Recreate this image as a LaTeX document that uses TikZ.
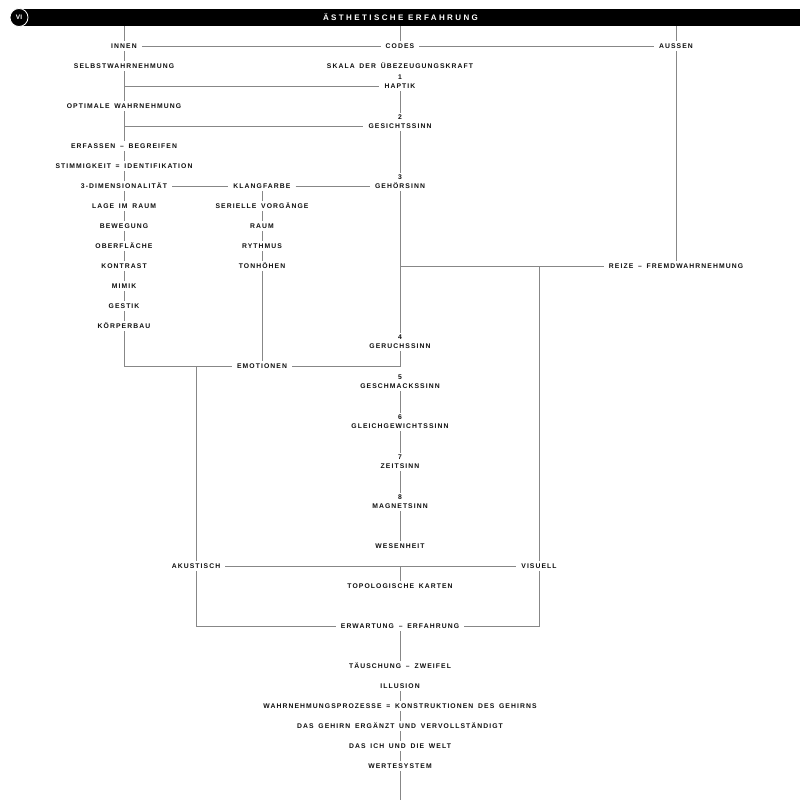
\documentclass[tikz,border=0pt]{standalone}
\usepackage{fontspec}
\setmainfont{Liberation Sans}
\newfontfamily\trackfont{Liberation Sans}[LetterSpace=16,WordSpace=1.6]
\newfontfamily\titletrack{Liberation Sans}[LetterSpace=30]
\newcommand\lblf{\trackfont\bfseries\fontsize{6.8}{8}\selectfont}
\newcommand\ttlf{\titletrack\bfseries\fontsize{8}{9}\selectfont}
\definecolor{linegray}{RGB}{135,135,135}
\definecolor{txt}{RGB}{15,15,15}
\begin{document}
\begin{tikzpicture}[x=1pt,y=-1pt,
  ln/.style={draw=linegray,line width=0.75pt},
  lbl/.style={font=\lblf,text=txt,inner xsep=5pt,inner ysep=2.5pt,text height=4.9pt,text depth=0pt},
  num/.style={lbl,inner ysep=1.5pt}]
\useasboundingbox (0,0) rectangle (800,800);
\fill[white] (0,0) rectangle (800,800);
% header
\node[fill=black,minimum width=778pt,minimum height=17.5pt,inner sep=0pt,anchor=north west] (bar) at (22,8.5) {};
\node[circle,fill=black,draw=white,line width=0.8pt,minimum size=18pt,inner sep=0pt,text=white,font=\bfseries\fontsize{6.5}{7}\selectfont] (vi) at (19,17.5) {VI};
\node[font=\ttlf,text=white,inner sep=0pt] (title) at (400.5,17.5) {ÄSTHETISCHE ERFAHRUNG};
% left column
\node[lbl] (innen) at (124,46) {INNEN};
\node[lbl] (selbst) at (124,66) {SELBSTWAHRNEHMUNG};
\node[lbl] (optimal) at (124,106) {OPTIMALE WAHRNEHMUNG};
\node[lbl] (erfassen) at (124,146) {ERFASSEN – BEGREIFEN};
\node[lbl] (stimmig) at (124,166) {STIMMIGKEIT = IDENTIFIKATION};
\node[lbl] (dreid) at (124,186) {3-DIMENSIONALITÄT};
\node[lbl] (lage) at (124,206) {LAGE IM RAUM};
\node[lbl] (beweg) at (124,226) {BEWEGUNG};
\node[lbl] (ober) at (124,246) {OBERFLÄCHE};
\node[lbl] (kontrast) at (124,266) {KONTRAST};
\node[lbl] (mimik) at (124,286) {MIMIK};
\node[lbl] (gestik) at (124,306) {GESTIK};
\node[lbl] (koerper) at (124,326) {KÖRPERBAU};
% middle column
\node[lbl] (klang) at (262,186) {KLANGFARBE};
\node[lbl] (seriell) at (262,206) {SERIELLE VORGÄNGE};
\node[lbl] (raum) at (262,226) {RAUM};
\node[lbl] (rythmus) at (262,246) {RYTHMUS};
\node[lbl] (tonh) at (262,266) {TONHÖHEN};
\node[lbl] (emo) at (262,366) {EMOTIONEN};
% center column
\node[lbl] (codes) at (400,46) {CODES};
\node[lbl] (skala) at (400,66) {SKALA DER ÜBEZEUGUNGSKRAFT};
\node[num] (n1) at (400,77.5) {1};
\node[lbl] (haptik) at (400,86) {HAPTIK};
\node[num] (n2) at (400,117.5) {2};
\node[lbl] (gesicht) at (400,126) {GESICHTSSINN};
\node[num] (n3) at (400,177.5) {3};
\node[lbl] (gehoer) at (400,186) {GEHÖRSINN};
\node[num] (n4) at (400,337.5) {4};
\node[lbl] (geruch) at (400,346) {GERUCHSSINN};
\node[num] (n5) at (400,377.5) {5};
\node[lbl] (geschmack) at (400,386) {GESCHMACKSSINN};
\node[num] (n6) at (400,417.5) {6};
\node[lbl] (gleich) at (400,426) {GLEICHGEWICHTSSINN};
\node[num] (n7) at (400,457.5) {7};
\node[lbl] (zeit) at (400,466) {ZEITSINN};
\node[num] (n8) at (400,497.5) {8};
\node[lbl] (magnet) at (400,506) {MAGNETSINN};
\node[lbl] (wesen) at (400,546) {WESENHEIT};
\node[lbl] (topo) at (400,586) {TOPOLOGISCHE KARTEN};
\node[lbl] (erwart) at (400,626) {ERWARTUNG – ERFAHRUNG};
\node[lbl] (taeusch) at (400,666) {TÄUSCHUNG – ZWEIFEL};
\node[lbl] (illusion) at (400,686) {ILLUSION};
\node[lbl] (prozesse) at (400,706) {WAHRNEHMUNGSPROZESSE = KONSTRUKTIONEN DES GEHIRNS};
\node[lbl] (ergaenzt) at (400,726) {DAS GEHIRN ERGÄNZT UND VERVOLLSTÄNDIGT};
\node[lbl] (ich) at (400,746) {DAS ICH UND DIE WELT};
\node[lbl] (werte) at (400,766) {WERTESYSTEM};
\coordinate (bottom) at (400,800);
% right
\node[lbl] (aussen) at (676,46) {AUSSEN};
\node[lbl] (reize) at (676,266) {REIZE – FREMDWAHRNEHMUNG};
\node[lbl] (visuell) at (539,566) {VISUELL};
\node[lbl] (akust) at (196,566) {AKUSTISCH};
% connectors: header
\draw[ln] (innen.north |- bar.south) -- (innen.north);
\draw[ln] (codes.north |- bar.south) -- (codes.north);
\draw[ln] (aussen.north |- bar.south) -- (aussen.north);
% top row
\draw[ln] (innen.east) -- (codes.west);
\draw[ln] (codes.east) -- (aussen.west);
% left column
\draw[ln] (innen.south) -- (selbst.north);
\draw[ln] (selbst.south) -- (optimal.north);
\draw[ln] (selbst.south |- haptik.west) -- (haptik.west);
\draw[ln] (optimal.south) -- (erfassen.north);
\draw[ln] (optimal.south |- gesicht.west) -- (gesicht.west);
\draw[ln] (erfassen.south) -- (stimmig.north);
\draw[ln] (stimmig.south) -- (dreid.north);
\draw[ln] (dreid.south) -- (lage.north);
\draw[ln] (lage.south) -- (beweg.north);
\draw[ln] (beweg.south) -- (ober.north);
\draw[ln] (ober.south) -- (kontrast.north);
\draw[ln] (kontrast.south) -- (mimik.north);
\draw[ln] (mimik.south) -- (gestik.north);
\draw[ln] (gestik.south) -- (koerper.north);
\draw[ln] (koerper.south) |- (emo.west);
% row 3
\draw[ln] (dreid.east) -- (klang.west);
\draw[ln] (klang.east) -- (gehoer.west);
% middle column
\draw[ln] (klang.south) -- (seriell.north);
\draw[ln] (seriell.south) -- (raum.north);
\draw[ln] (raum.south) -- (rythmus.north);
\draw[ln] (rythmus.south) -- (tonh.north);
\draw[ln] (tonh.south) -- (emo.north);
% center column
\draw[ln] (haptik.south) -- (n2.north);
\draw[ln] (gesicht.south) -- (n3.north);
\draw[ln] (gehoer.south) -- (n4.north);
\draw[ln] (gehoer.south |- reize.west) -- (reize.west);
\draw[ln] (geruch.south) |- (emo.east);
\draw[ln] (geschmack.south) -- (n6.north);
\draw[ln] (gleich.south) -- (n7.north);
\draw[ln] (zeit.south) -- (n8.north);
\draw[ln] (magnet.south) -- (wesen.north);
\draw[ln] (topo.north |- akust.east) -- (topo.north);
\draw[ln] (erwart.south) -- (taeusch.north);
\draw[ln] (illusion.south) -- (prozesse.north);
\draw[ln] (prozesse.south) -- (ergaenzt.north);
\draw[ln] (ergaenzt.south) -- (ich.north);
\draw[ln] (ich.south) -- (werte.north);
\draw[ln] (werte.south) -- (bottom);
% right
\draw[ln] (aussen.south) -- (reize.north);
\draw[ln] (visuell.north |- reize.west) -- (visuell.north);
\draw[ln] (visuell.south) |- (erwart.east);
% akustisch
\draw[ln] (akust.north |- emo.west) -- (akust.north);
\draw[ln] (akust.south) |- (erwart.west);
\draw[ln] (akust.east) -- (visuell.west);
\end{tikzpicture}
\end{document}
